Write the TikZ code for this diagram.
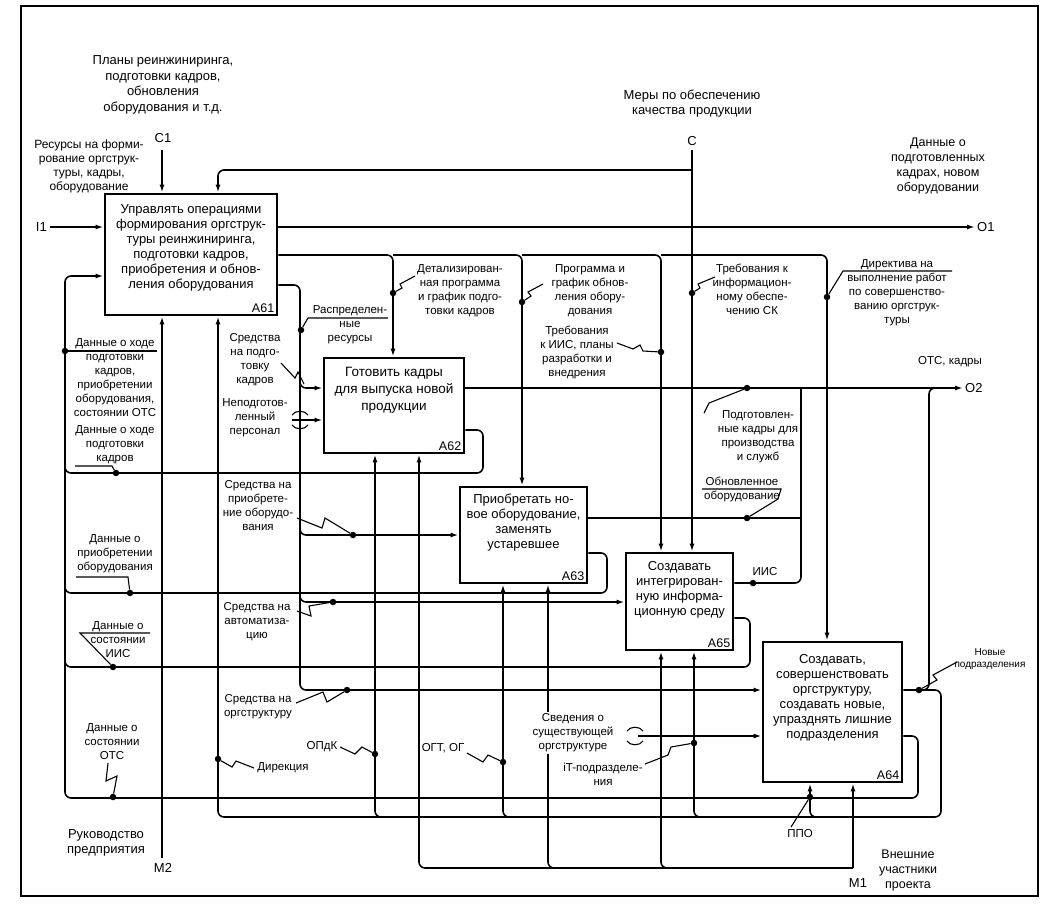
\documentclass[tikz,border=0pt]{standalone}
\usepackage{fontspec}
\setmainfont{Liberation Sans}
\usetikzlibrary{arrows.meta}

\begin{document}
\begin{tikzpicture}[x=1pt, y=-1pt, >={Latex[length=8pt,width=5pt]}]
\tikzset{
  fn/.style={draw, line width=2.8pt, inner sep=0pt},
  ftext/.style={align=center, inner sep=0pt, font=\fontsize{13}{15}\selectfont},
  fid/.style={anchor=south east, inner sep=0pt, font=\fontsize{12.5}{13}\selectfont},
  tag/.style={align=center, inner sep=0pt, font=\fontsize{13}{15}\selectfont},
  lbl/.style={align=center, inner sep=0pt, font=\fontsize{11.5}{14}\selectfont},
  wire/.style={line width=1.6pt, rounded corners=6pt},
  leader/.style={line width=1.1pt},
  dot/.style={circle, fill, inner sep=0pt, minimum size=6.5pt}
}
\useasboundingbox (0,0) rectangle (1064,914);
\draw[line width=2.8pt] (21,6) rectangle (1038,896);

% functions
\node[fn, minimum width=172pt, minimum height=121pt] (A61) at (191,254.5) {};
\node[fn, minimum width=140pt, minimum height=95pt]  (A62) at (394,405.5) {};
\node[fn, minimum width=127pt, minimum height=96pt]  (A63) at (523.5,535) {};
\node[fn, minimum width=107pt, minimum height=97pt]  (A65) at (679.5,601.5) {};
\node[fn, minimum width=139pt, minimum height=140pt] (A64) at (832.5,712) {};

\node[ftext] (A61t) at (191,248) {Управлять операциями\\формирования оргструк-\\туры реинжиниринга,\\подготовки кадров,\\приобретения и обнов-\\ления оборудования};
\node[ftext, font=\fontsize{13.5}{17}\selectfont] (A62t) at (394,390) {Готовить кадры\\для выпуска новой\\продукции};
\node[ftext] (A63t) at (523.5,523) {Приобретать но-\\вое оборудование,\\заменять\\устаревшее};
\node[ftext] (A65t) at (679.5,590) {Создавать\\интегрирован-\\ную информа-\\ционную среду};
\node[ftext] (A64t) at (832.5,698) {Создавать,\\совершенствовать\\оргструктуру,\\создавать новые,\\упразднять лишние\\подразделения};

\node[fid, xshift=-4pt, yshift=4pt] (A61n) at (A61.south east) {A61};
\node[fid, xshift=-4pt, yshift=4pt] (A62n) at (A62.south east) {A62};
\node[fid, xshift=-4pt, yshift=4pt] (A63n) at (A63.south east) {A63};
\node[fid, xshift=-4pt, yshift=4pt] (A65n) at (A65.south east) {A65};
\node[fid, xshift=-4pt, yshift=4pt] (A64n) at (A64.south east) {A64};

% boundary arrows
\coordinate (C1) at (162,150);
\coordinate (C)  at (692,150);
\coordinate (I1) at (50,227);
\coordinate (O1) at (975,227);
\coordinate (O2) at (963,388);
\coordinate (M2) at (162,858);
\coordinate (M1) at (853,868);

\draw[wire,->] (C1) -- (C1 |- A61.north);
\draw[wire,->] (I1) -- (I1 -| A61.west);
\draw[wire,->] (C) -- (C |- A65.north);
\draw[wire,->] (C |- 0,170) -- (218,170) -- (A61.north -| 218,0);
\draw[wire,->] (A61.east |- O1) -- (O1);
\draw[wire,->] (A62.east |- O2) -- (O2);
\draw[wire,->] (M2) -- (A61.south -| M2);
\draw[wire,->] (M1) -- (A64.south -| M1);

\node[tag] (C1l) at (163,138) {C1};
\node[tag] (Cl)  at (692,141) {C};
\node[tag, anchor=east] (I1l) at (47,227) {I1};
\node[tag, anchor=west] (O1l) at (977,227) {O1};
\node[tag, anchor=west] (O2l) at (965,388) {O2};
\node[tag] (M2l) at (163,868) {M2};
\node[tag] (M1l) at (858,883) {M1};

% controls from A61
\draw[wire,->] (A61.east |- 0,255) -- (393,255) -- (A62.north -| 393,0);
\draw[wire,->] (393,255) -- (522,255) -- (A63.north -| 522,0);
\draw[wire,->] (522,255) -- (661,255) -- (A65.north -| 661,0);
\draw[wire,->] (661,255) -- (827,255) -- (A64.north -| 827,0);

% resources from A61
\draw[wire,->] (A61.east |- 0,285) -- (300,285) -- (300,690) -- (A64.west |- 0,690);
\draw[wire,->] (300,375) -- (300,388) -- (A62.west |- 0,388);
\draw[wire,->] (300,522) -- (300,535) -- (A63.west |- 0,535);
\draw[wire,->] (300,589) -- (300,602) -- (A65.west |- 0,602);

% tunnelled inputs
\coordinate (np) at (292,420);
\draw[wire,->] (np) -- (A62.west |- np);
\draw[leader] (292,415) .. controls (295,410) and (305,410) .. (308,415);
\draw[leader] (292,425) .. controls (295,430) and (305,430) .. (308,425);
\coordinate (sv) at (638,736);
\draw[wire,->] (sv) -- (A64.west |- sv);
\draw[leader] (627,731) .. controls (630,726) and (640,726) .. (643,731);
\draw[leader] (627,741) .. controls (630,746) and (640,746) .. (643,741);

% outputs to O2
\draw[wire] (A63.east |- 0,518) -- (801,518);
\draw[wire] (A65.east |- 0,583) -- (801,583) -- (801,388);
\draw[wire] (919,690) -- (929,690) -- (929,388) -- (939,388);

% feedback to A61
\draw[wire,->] (A64.east |- 0,736) -- (918,736) -- (918,798) -- (65,798) -- (65,276) -- (A61.west |- 0,276);
\draw[wire] (A62.east |- 0,430) -- (483,430) -- (483,473) -- (65,473) -- (65,460);
\draw[wire] (A63.east |- 0,553) -- (607,553) -- (607,593) -- (65,593) -- (65,580);
\draw[wire] (A65.east |- 0,618) -- (750,618) -- (750,667) -- (65,667) -- (65,654);

% new departments as mechanisms
\draw[wire,->] (A64.east |- 0,690) -- (941,690) -- (941,817) -- (218,817) -- (A61.south -| 218,0);
\draw[wire,->] (385,817) -- (375,817) -- (A62.south -| 375,0);
\draw[wire,->] (513,817) -- (503,817) -- (A63.south -| 503,0);
\draw[wire,->] (704,817) -- (694,817) -- (A65.south -| 694,0);
\draw[wire,->] (820,817) -- (810,817) -- (A64.south -| 810,0);

% external participants
\draw[wire,->] (M1) -- (419,868) -- (A62.south -| 419,0);
\draw[wire,->] (558,868) -- (548,868) -- (A63.south -| 548,0);
\draw[wire,->] (671,868) -- (661,868) -- (A65.south -| 661,0);

% dots
\node[dot] (dA) at (65,351) {};
\node[dot] (dB) at (116,473) {};
\node[dot] (dC) at (130,593) {};
\node[dot] (dD) at (113,667) {};
\node[dot] (dE) at (113,797) {};
\node[dot] (dG) at (301,330) {};
\node[dot] (dJ) at (353,535) {};
\node[dot] (dK) at (333,602) {};
\node[dot] (dL) at (347,690) {};
\node[dot] (dM) at (218,759) {};
\node[dot] (dN) at (375,754) {};
\node[dot] (dO) at (503,762) {};
\node[dot] (dQ) at (694,743) {};
\node[dot] (dR) at (810,797) {};
\node[dot] (dS) at (919,690) {};
\node[dot] (dT) at (393,293) {};
\node[dot] (dU) at (522,302) {};
\node[dot] (dV) at (661,352) {};
\node[dot] (dW) at (692,293) {};
\node[dot] (dX) at (827,297) {};
\node[dot] (dY) at (747,388) {};
\node[dot] (dZ) at (747,518) {};
\node[dot] (dI) at (753,583) {};

% leaders
\draw[leader] (dA) -- ++(92,0);
\draw[leader] (dB) -- ++(-4,-7) -- ++(-37,0);
\draw[leader] (dC) -- ++(-2,-16) -- ++(-52,0);
\draw[leader] (dD) -- ++(-33,-34) -- ++(70,0);
\draw[leader] (dE) -- ++(4,-21) -- ++(-11,5) -- ++(2,-18);
\draw[leader] (dG) -- ++(7,-12) -- ++(80,0);
\draw[leader] (304,384) -- (298,372) -- (295,378) -- (281,363);
\draw[leader] (dJ) -- ++(-28,-17) -- ++(-3,10) -- ++(-25,-10);
\draw[leader] (dK) -- ++(-24,4) -- ++(2,10) -- ++(-14,-5);
\draw[leader] (dL) -- ++(-20,12) -- ++(-4,-10) -- ++(-27,11);
\draw[leader] (dM) -- ++(14,8) -- ++(4,-6) -- ++(18,7);
\draw[leader] (dN) -- ++(-13,-7) -- ++(-7,7) -- ++(-15,-7);
\draw[leader] (dO) -- ++(-15,-7) -- ++(-5,7) -- ++(-16,-9);
\draw[leader] (dQ) -- ++(-23,4) -- ++(-3,8) -- ++(-23,9);
\draw[leader] (dR) -- ++(-19,30);
\draw[leader] (dS) -- ++(18,-10) -- ++(-4,-5) -- ++(24,-13);
\draw[leader] (dT) -- ++(9,-5) -- ++(-2,-4) -- ++(15,-8);
\draw[leader] (dU) -- ++(9,-6) -- ++(-3,-4) -- ++(15,-8);
\draw[leader] (dV) -- ++(-18,-1) -- ++(-3,-6) -- ++(-7,4) -- ++(-16,-6);
\draw[leader] (dW) -- ++(8,-5) -- ++(-2,-4) -- ++(17,-7);
\draw[leader] (dX) -- ++(16,-26) -- ++(109,0);
\draw[leader] (dY) -- ++(-38,15) -- ++(-5,10);
\draw[leader] (dZ) -- ++(31,-19) -- ++(3,-10) -- ++(-79,0);

% labels
\node[tag, font=\fontsize{13}{15.5}\selectfont] (plans) at (163,85) {Планы реинжиниринга,\\подготовки кадров,\\обновления\\оборудования и т.д.};
\node[tag, font=\fontsize{12}{14}\selectfont] (res) at (89,166) {Ресурсы на форми-\\рование оргструк-\\туры, кадры,\\оборудование};
\node[tag] (qual) at (692,104) {Меры по обеспечению\\качества продукции};
\node[tag, font=\fontsize{12.5}{15}\selectfont] (out1) at (938,166) {Данные о\\подготовленных\\кадрах, новом\\оборудовании};
\node[lbl] (out2) at (950,362) {ОТС, кадры};
\node[tag] (lead) at (106,843) {Руководство\\предприятия};
\node[tag, font=\fontsize{12.5}{15}\selectfont] (ext) at (908,870) {Внешние\\участники\\проекта};

\node[lbl] (lA) at (115,378) {Данные о ходе\\подготовки\\кадров,\\приобретении\\оборудования,\\состоянии ОТС};
\node[lbl] (lB) at (115,445) {Данные о ходе\\подготовки\\кадров};
\node[lbl] (lC) at (115,554) {Данные о\\приобретении\\оборудования};
\node[lbl] (lD) at (118,640) {Данные о\\состоянии\\ИИС};
\node[lbl] (lE) at (112,742) {Данные о\\состоянии\\ОТС};
\node[lbl] (lG) at (350,325) {Распределен-\\ные\\ресурсы};
\node[lbl] (lH) at (255,360) {Средства\\на подго-\\товку\\кадров};
\node[lbl] (lI) at (255,418) {Неподготов-\\ленный\\персонал};
\node[lbl] (lJ) at (258,506) {Средства на\\приобрете-\\ние оборудо-\\вания};
\node[lbl] (lK) at (257,622) {Средства на\\автоматиза-\\цию};
\node[lbl] (lL) at (258,707) {Средства на\\оргструктуру};
\node[lbl] (lM) at (283,768) {Дирекция};
\node[lbl] (lN) at (322,747) {ОПдК};
\node[lbl] (lO) at (443,748) {ОГТ, ОГ};
\node[lbl, fill=white, inner sep=2pt] (lP) at (573,733) {Сведения о\\существующей\\оргструктуре};
\node[lbl] (lQ) at (603,774) {iT-подразделе-\\ния};
\node[lbl] (lR) at (800,834) {ППО};
\node[lbl, font=\fontsize{10}{12}\selectfont] (lS) at (990,659) {Новые\\подразделения};
\node[lbl] (lT) at (460,291) {Детализирован-\\ная программа\\и график подго-\\товки кадров};
\node[lbl] (lU) at (590,291) {Программа и\\график обнов-\\ления обору-\\дования};
\node[lbl] (lV) at (577,352) {Требования\\к ИИС, планы\\разработки и\\внедрения};
\node[lbl] (lW) at (752,289) {Требования к\\информацион-\\ному обеспе-\\чению СК};
\node[lbl] (lX) at (897,293) {Директива на\\выполнение работ\\по совершенство-\\ванию оргструк-\\туры};
\node[lbl] (lY) at (758,437) {Подготовлен-\\ные кадры для\\производства\\и служб};
\node[lbl] (lZ) at (742,489) {Обновленное\\оборудование};
\node[lbl] (lI2) at (765,572) {ИИС};
\end{tikzpicture}
\end{document}
